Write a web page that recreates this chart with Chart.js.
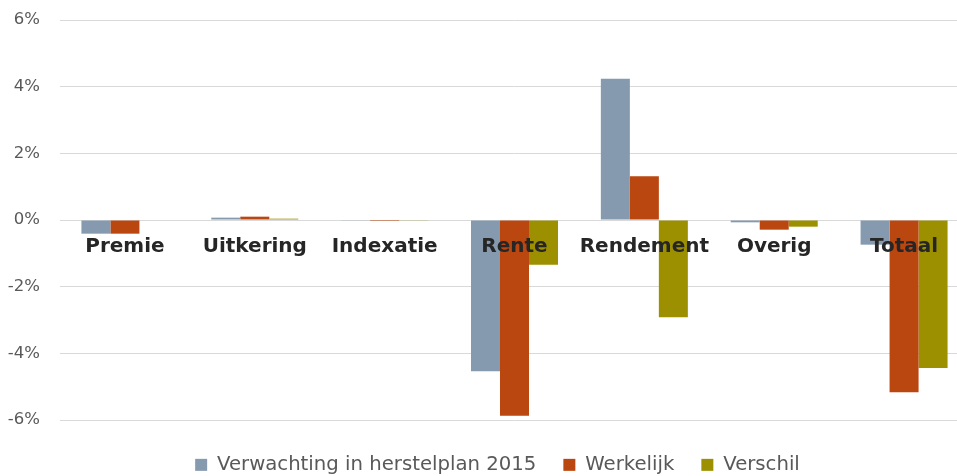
<!DOCTYPE html>
<html>
<head>
<meta charset="utf-8">
<script src="https://cdn.jsdelivr.net/npm/chart.js@4/dist/chart.umd.min.js"></script>
<style>
  html, body { margin: 0; padding: 0; overflow: hidden; background: #ffffff; }
  #wrap { width: 970px; height: 476px; position: relative; }
</style>
</head>
<body>
<div id="wrap"><canvas id="c"></canvas></div>
<script>
const categories = ['Premie', 'Uitkering', 'Indexatie', 'Rente', 'Rendement', 'Overig', 'Totaal'];
const verwachting = [-0.41, 0.07, -0.01, -4.54, 4.24, -0.07, -0.74];
const werkelijk   = [-0.41, 0.10, -0.03, -5.87, 1.31, -0.29, -5.17];
const verschil    = [0.00, 0.04, -0.01, -1.34, -2.92, -0.20, -4.44];
const seriesNames = ['Verwachting in herstelplan 2015', 'Werkelijk', 'Verschil'];
const yMin = -6, yMax = 6, yStep = 2;

const legendPlace = {
  id: 'legendPlace',
  beforeUpdate(chart) {
    const lg = chart.legend;
    if (lg && !lg._fixedH) {
      const orig = lg.fit;
      lg.fit = function () { orig.call(this); this.height = 56; };
      lg._fixedH = true;
    }
  },
  afterLayout(chart) {
    const lg = chart.legend;
    if (!lg) return;
    const dx = 13, dy = 8;
    lg.left += dx; lg.right += dx;
    lg.top += dy; lg.bottom += dy;
  }
};

new Chart(document.getElementById('c'), {
  type: 'bar',
  data: {
    labels: categories,
    datasets: [
      { label: seriesNames[0], data: verwachting, backgroundColor: '#8599AF' },
      { label: seriesNames[1], data: werkelijk, backgroundColor: '#BA4610' },
      { label: seriesNames[2], data: verschil, backgroundColor: '#9D9000' }
    ]
  },
  options: {
    responsive: true,
    maintainAspectRatio: false,
    animation: false,
    layout: { padding: { top: 20, left: 0, right: 1, bottom: 0 } },
    datasets: { bar: { categoryPercentage: 0.67, barPercentage: 1.0, borderWidth: 0 } },
    plugins: {
      tooltip: { enabled: false },
      legend: {
        position: 'bottom',
        labels: {
          boxWidth: 12,
          boxHeight: 12,
          padding: 27,
          color: '#595959',
          font: { family: 'DejaVu Sans', size: 19.7 }
        }
      }
    },
    scales: {
      x: {
        position: { y: 0 },
        grid: { display: false, drawTicks: false },
        border: { display: false },
        ticks: {
          z: 1,
          padding: 15,
          maxRotation: 0,
          autoSkip: false,
          color: '#262626',
          font: { family: 'DejaVu Sans', size: 20, weight: 'bold' }
        }
      },
      y: {
        min: yMin,
        max: yMax,
        afterFit(scale) {
          scale.width = 60;
          scale.paddingTop = 10;
          scale.paddingBottom = 10;
        },
        grid: { color: '#D9D9D9', lineWidth: 1, drawTicks: false },
        border: { display: false },
        ticks: {
          stepSize: yStep,
          padding: 20,
          color: '#595959',
          font: { family: 'DejaVu Sans', size: 16.5 },
          callback: v => v + '%'
        }
      }
    }
  },
  plugins: [legendPlace]
});
</script>
</body>
</html>
